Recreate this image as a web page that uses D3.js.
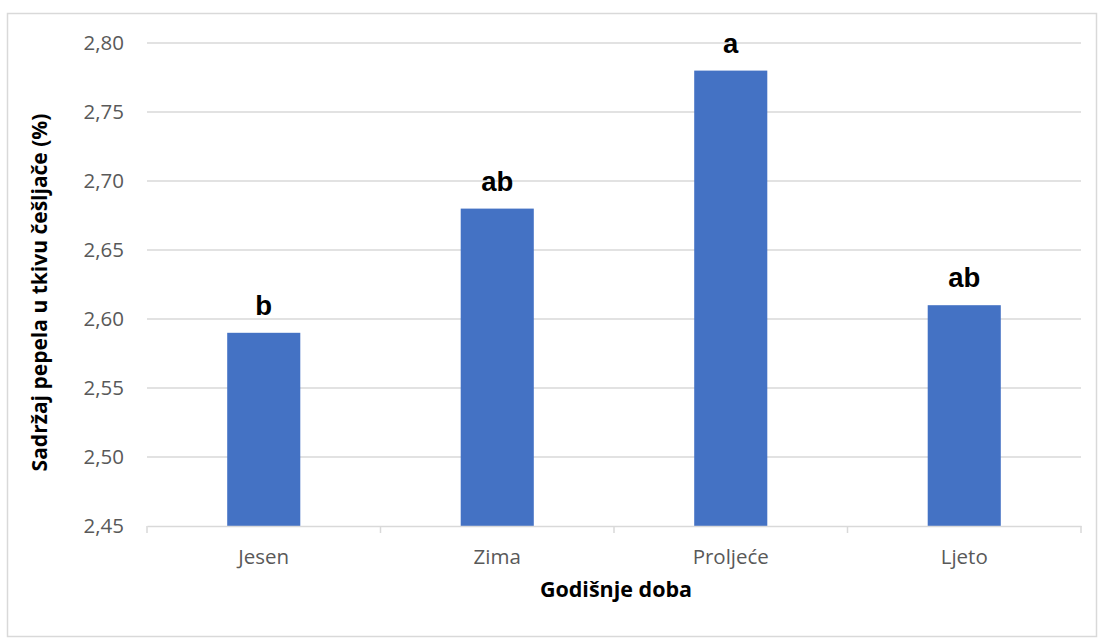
<!DOCTYPE html>
<html><head><meta charset="utf-8">
<script src="https://cdn.jsdelivr.net/npm/d3@7"></script>
<style>body{margin:0;background:#fff}svg{display:block}</style>
</head><body>
<svg id="c" width="1099" height="639"></svg>
<script>
const categories = ["Jesen", "Zima", "Proljeće", "Ljeto"];
const values = [2.59, 2.68, 2.78, 2.61];
const letters = ["b", "ab", "a", "ab"];
const yTicks = [2.45, 2.50, 2.55, 2.60, 2.65, 2.70, 2.75, 2.80];

const svg = d3.select("#c");
svg.append("rect").attr("x", 7.5).attr("y", 13.5).attr("width", 1089).attr("height", 623)
  .attr("fill", "#fff").attr("stroke", "#d9d9d9").attr("stroke-width", 1.5);

const L = 147, R = 1081, T = 43, B = 526;
const x = d3.scaleBand().domain(categories).range([L, R]);
const y = d3.scaleLinear().domain([2.45, 2.80]).range([B, T]);
const fmt = v => d3.format(".2f")(v).replace(".", ",");

// gridlines
svg.append("g").selectAll("line").data(yTicks.slice(1)).join("line")
  .attr("x1", L).attr("x2", R).attr("y1", d => y(d)).attr("y2", d => y(d))
  .attr("stroke", "#d9d9d9").attr("stroke-width", 1.3);

// y tick labels
svg.append("g").selectAll("text").data(yTicks).join("text")
  .attr("x", 124).attr("y", d => y(d)).attr("dy", "0.36em")
  .attr("text-anchor", "end").attr("font-family", "Open Sans, sans-serif")
  .attr("font-size", 20.5).attr("fill", "#595959").text(fmt);

// bars
const bw = x.step() * 0.313;
svg.append("g").selectAll("rect").data(values).join("rect")
  .attr("x", (d, i) => x(categories[i]) + x.step() / 2 - bw / 2)
  .attr("width", bw)
  .attr("y", d => y(d)).attr("height", d => B - y(d))
  .attr("fill", "#4472C4");

// bottom axis
const xa = svg.append("g").attr("transform", `translate(0,${B})`)
  .call(d3.axisBottom(x).tickSize(0).tickPadding(23));
xa.select(".domain").attr("stroke", "#d9d9d9").attr("stroke-width", 1.5);
xa.selectAll("text").attr("font-family", "Open Sans, sans-serif").attr("font-size", 20.5).attr("fill", "#595959");
const bounds = categories.map(c => x(c)).concat([R]);
svg.append("g").selectAll("line").data(bounds).join("line")
  .attr("x1", d => d).attr("x2", d => d).attr("y1", B).attr("y2", B + 7)
  .attr("stroke", "#d9d9d9").attr("stroke-width", 1.5);

// letter labels
svg.append("g").selectAll("text").data(values).join("text")
  .attr("x", (d, i) => x(categories[i]) + x.step() / 2)
  .attr("y", d => y(d) - 18)
  .attr("text-anchor", "middle").attr("font-family", "Liberation Sans, Arial, sans-serif")
  .attr("font-weight", "bold").attr("font-size", 27.5).attr("fill", "#000")
  .text((d, i) => letters[i]);

// axis titles
svg.append("text").attr("x", (L + R) / 2 + 2).attr("y", 597).attr("text-anchor", "middle")
  .attr("font-family", "Open Sans, sans-serif").attr("font-weight", "bold").attr("font-size", 21.5)
  .attr("fill", "#000").text("Godišnje doba");
svg.append("text").attr("transform", `translate(47,${(T + B) / 2 + 8}) rotate(-90)`)
  .attr("text-anchor", "middle").attr("font-family", "Open Sans, sans-serif")
  .attr("font-weight", "bold").attr("font-size", 21).attr("fill", "#000")
  .text("Sadržaj pepela u tkivu češljače (%)");
</script>
</body></html>
